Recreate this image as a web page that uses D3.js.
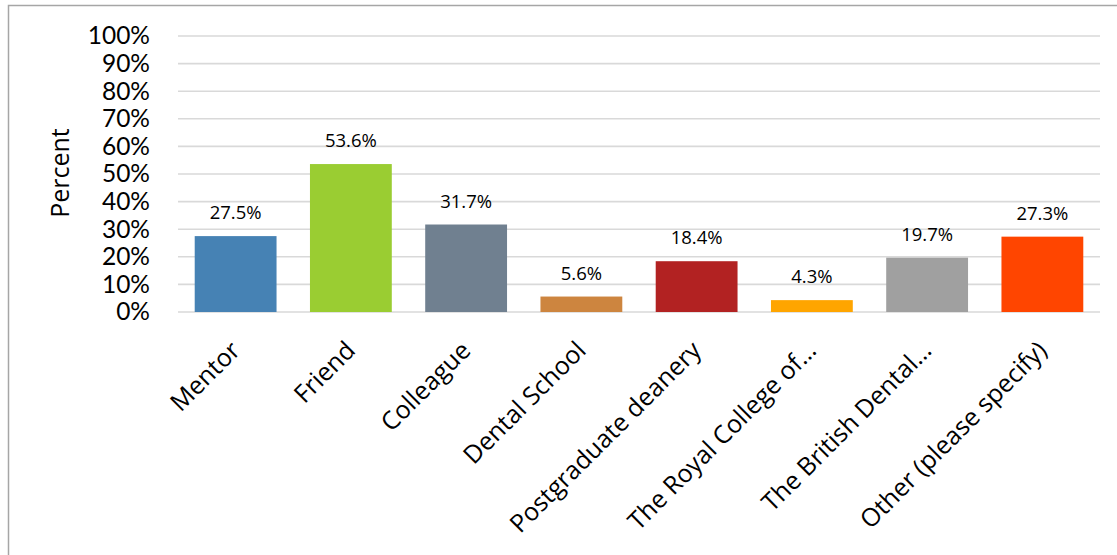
<!DOCTYPE html>
<html>
<head>
<meta charset="utf-8">
<script src="https://cdn.jsdelivr.net/npm/d3@7"></script>
<style>
  html, body { margin: 0; padding: 0; background: #fff; }
  svg { display: block; }
</style>
</head>
<body>
<svg id="chart" width="1117" height="555"></svg>
<script>
// Where respondents would seek advice (percent of respondents)
const categories = [
  "Mentor", "Friend", "Colleague", "Dental School", "Postgraduate deanery",
  "The Royal College of…", "The British Dental…", "Other (please specify)"
];
const values = [27.5, 53.6, 31.7, 5.6, 18.4, 4.3, 19.7, 27.3];
const colors = ["#4682B4", "#9ACD32", "#708090", "#CD853F", "#B22222", "#FFA500", "#A0A0A0", "#FF4500"];
const yTicks = [0, 10, 20, 30, 40, 50, 60, 70, 80, 90, 100];

const svg = d3.select("#chart");
const W = 1117, H = 555;
const plot = { left: 178, right: 1100, top: 36, bottom: 312 };

// Outer chart frame
svg.append("rect")
  .attr("x", 8.5).attr("y", 5.5)
  .attr("width", W + 10).attr("height", H + 10)
  .attr("fill", "#fff").attr("stroke", "#a6a6a6").attr("stroke-width", 1.5);

const x = d3.scaleBand().domain(categories).range([plot.left, plot.right]).paddingInner(0.29).paddingOuter(0.145);
const y = d3.scaleLinear().domain([0, 100]).range([plot.bottom, plot.top]);

// Horizontal gridlines
svg.append("g")
  .selectAll("line").data(yTicks).join("line")
  .attr("x1", plot.left).attr("x2", plot.right)
  .attr("y1", d => y(d)).attr("y2", d => y(d))
  .attr("stroke", "#d9d9d9").attr("stroke-width", 1.6);

// Y axis labels
const yAxis = svg.append("g")
  .attr("transform", `translate(${plot.left},0)`)
  .call(d3.axisLeft(y).tickValues(yTicks).tickFormat(d => d + "%").tickSize(0).tickPadding(28));
yAxis.select(".domain").remove();
yAxis.selectAll("text")
  .attr("font-family", "Lato, 'Open Sans', sans-serif")
  .attr("font-size", 24.5)
  .attr("fill", "#000");

// Y axis title
svg.append("text")
  .attr("transform", `translate(69,${(plot.top + plot.bottom) / 2 - 1}) rotate(-90)`)
  .attr("text-anchor", "middle")
  .attr("font-family", "'Open Sans', sans-serif")
  .attr("font-size", 25)
  .attr("fill", "#000")
  .text("Percent");

// Bars
svg.append("g")
  .selectAll("rect").data(values).join("rect")
  .attr("x", (d, i) => x(categories[i]))
  .attr("width", x.bandwidth())
  .attr("y", d => y(d))
  .attr("height", d => y(0) - y(d))
  .attr("fill", (d, i) => colors[i]);

// Value labels
svg.append("g")
  .selectAll("text").data(values).join("text")
  .attr("x", (d, i) => x(categories[i]) + x.bandwidth() / 2)
  .attr("y", d => y(d) - 17)
  .attr("text-anchor", "middle")
  .attr("font-family", "'Open Sans', sans-serif")
  .attr("font-size", 18.5)
  .attr("fill", "#000")
  .text(d => d.toFixed(1) + "%");

// Rotated category labels
const xAxis = svg.append("g")
  .attr("transform", `translate(0,${plot.bottom})`)
  .call(d3.axisBottom(x).tickSize(0).tickPadding(0));
xAxis.select(".domain").remove();
xAxis.selectAll("text")
  .attr("font-family", "'Open Sans', sans-serif")
  .attr("font-size", 25)
  .attr("fill", "#000")
  .attr("text-anchor", "end")
  .attr("dy", 0)
  .attr("transform", "translate(6,40) rotate(-45)");
</script>
</body>
</html>
